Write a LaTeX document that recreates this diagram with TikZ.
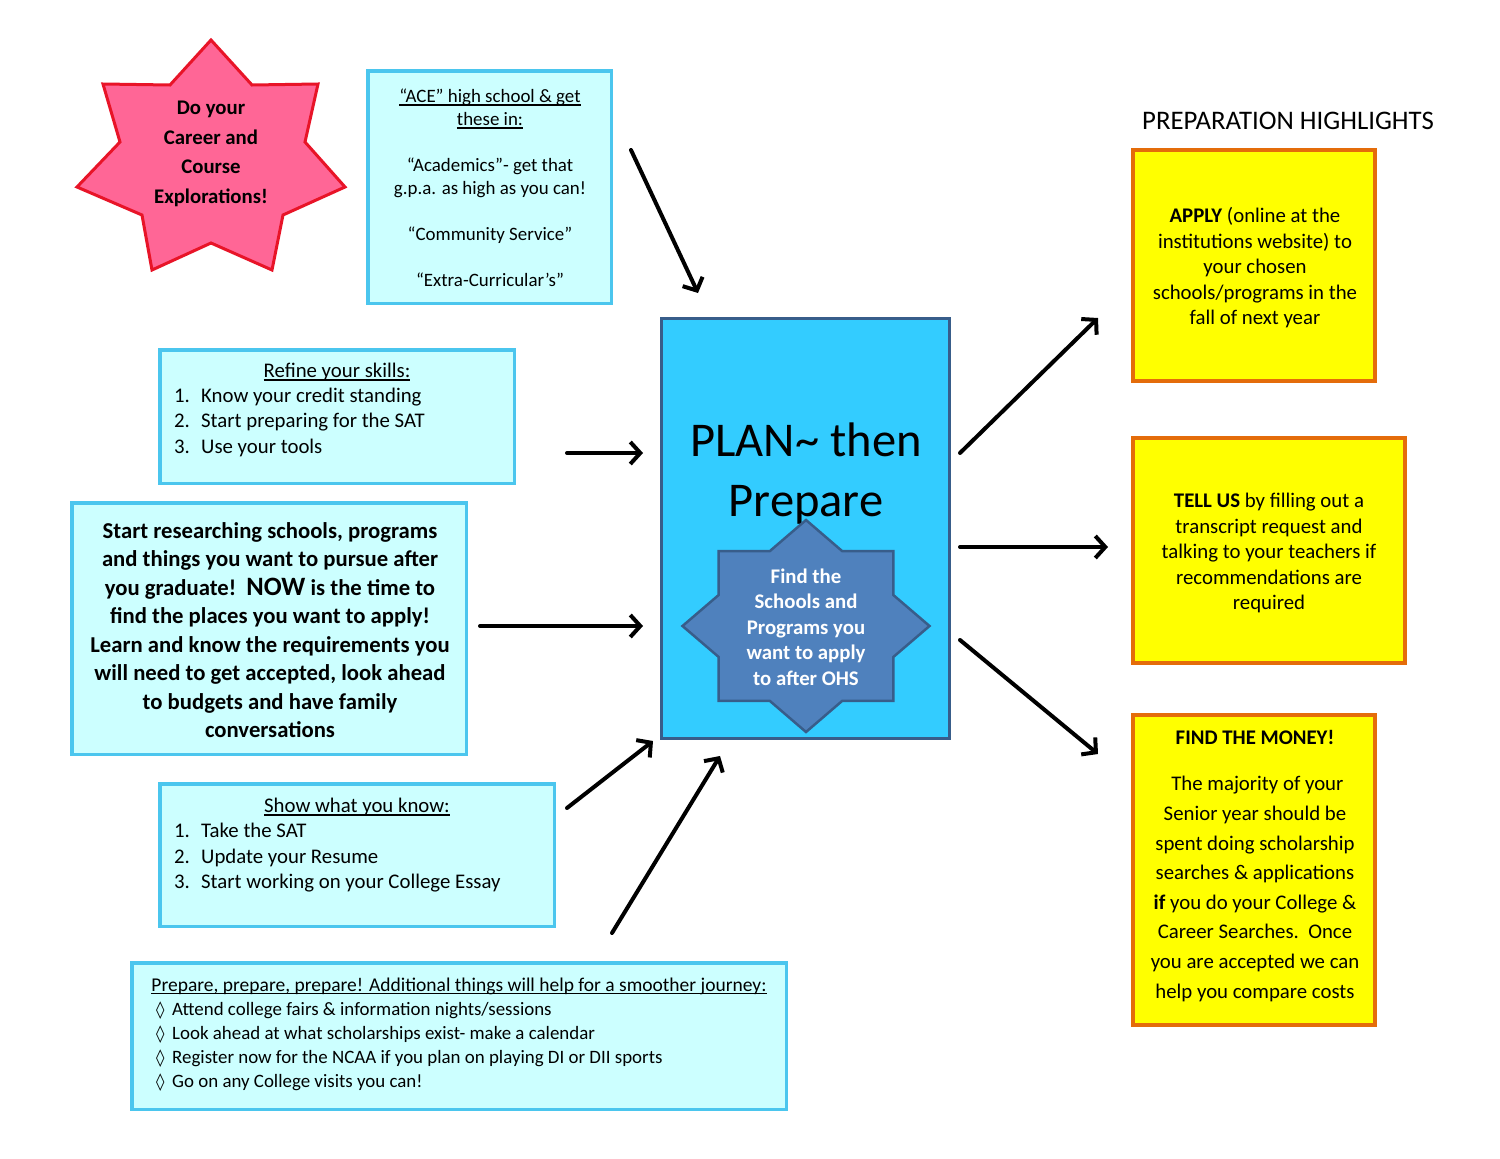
\documentclass[tikz,border=0pt]{standalone}
\usepackage{fontspec}
\setmainfont{Carlito}
\newfontfamily\symf{DejaVu Sans}
\newsavebox\ulbox
\newcommand\myul[1]{\sbox\ulbox{#1}\rlap{\usebox\ulbox}\rule[-3.2pt]{\wd\ulbox}{1.6pt}}
\usetikzlibrary{arrows.meta}
\definecolor{lcyan}{RGB}{204,255,255}
\definecolor{cyanline}{RGB}{75,198,238}
\definecolor{centerfill}{RGB}{51,204,255}
\definecolor{darkline}{RGB}{56,93,138}
\definecolor{starfill}{RGB}{79,129,189}
\definecolor{pinkfill}{RGB}{255,102,150}
\definecolor{pinkline}{RGB}{232,20,40}
\definecolor{yfill}{RGB}{255,255,0}
\definecolor{oline}{RGB}{228,108,10}
\newcommand\fElev{\fontsize{20.8}{25.5}\selectfont}
\newcommand\fElevB{\fontsize{20.8}{29.5}\selectfont\bfseries}
\newcommand\fTen{\fontsize{18.9}{23}\selectfont}
\newcommand\fTenP{\fontsize{18.9}{24}\selectfont}
\newcommand\lozsym{\makebox[16pt][l]{\symf\fontsize{17}{17}\selectfont ◊}}
\tikzset{
  cbox/.style={draw=cyanline, fill=lcyan, line width=3.5pt, inner sep=0pt},
  yellowbox/.style={draw=oline, fill=yfill, line width=4pt, inner sep=0pt},
  txt/.style={inner sep=0pt, align=center},
  arr/.style={line width=4pt, line cap=round, -{Straight Barb[length=10pt,width=22pt]}}
}
\begin{document}
\begin{tikzpicture}[x=1pt,y=-1pt]
\useasboundingbox (0,0) rectangle (1500,1159);
\fill[white] (0,0) rectangle (1500,1159);

% pink 7-point star
\filldraw[fill=pinkfill, draw=pinkline, line width=3pt, line join=miter]
  (211,40) -- (252,85) -- (318,84) -- (305,142) -- (345,187) -- (283,215)
  -- (272,270) -- (211,243) -- (152,270) -- (142,215) -- (77,187)
  -- (120,142) -- (103,84) -- (170,85) -- cycle;
\node[txt, font=\fElevB] (explore) at (211,154) {Do your\\Career and\\Course\\Explorations!};

% ACE box
\node[cbox, minimum width=243.5pt, minimum height=232.5pt] (ace) at (489.5,187) {};
\node[txt, font=\fTen] (acetxt) at (490,188)
  {\myul{“ACE” high school \& get}\\ \myul{these in:}\\[23pt]
   “Academics”- get that\\ g.p.a. as high as you can!\\[23pt]
   “Community Service”\\[23pt] “Extra-Curricular’s”};

% Refine box
\node[cbox, minimum width=354.5pt, minimum height=133.5pt] (refine) at (337,416.5) {};
\node[txt, font=\fElev] (refinetitle) at (337,372) {\myul{Refine your skills:}};
\node[txt, font=\fElev, align=left, anchor=west] (refinelist) at (174,422)
  {\makebox[27pt][l]{1.}Know your credit standing\\
   \makebox[27pt][l]{2.}Start preparing for the SAT\\
   \makebox[27pt][l]{3.}Use your tools};

% Research box
\node[cbox, minimum width=394.5pt, minimum height=251.5pt] (research) at (269,628.5) {};
\node[txt, font=\fontsize{22.7}{28.5}\selectfont\bfseries] (researchtxt) at (270,630)
  {Start researching schools, programs\\
   and things you want to pursue after\\
   you graduate!\ \ {\fontsize{26.5}{28.5}\selectfont NOW} is the time to\\
   find the places you want to apply!\\
   Learn and know the requirements you\\
   will need to get accepted, look ahead\\
   to budgets and have family\\
   conversations};

% Show box
\node[cbox, minimum width=394.5pt, minimum height=142.5pt] (show) at (357,855) {};
\node[txt, font=\fElev] (showtitle) at (357,807) {\myul{Show what you know:}};
\node[txt, font=\fElev, align=left, anchor=west] (showlist) at (174,858)
  {\makebox[27pt][l]{1.}Take the SAT\\
   \makebox[27pt][l]{2.}Update your Resume\\
   \makebox[27pt][l]{3.}Start working on your College Essay};

% Prepare box
\node[cbox, minimum width=654.5pt, minimum height=146.5pt] (prep) at (459,1036) {};
\node[txt, font=\fontsize{19.5}{24}\selectfont] (preptitle) at (459,986)
  {\myul{Prepare, prepare, prepare! Additional things will help for a smoother journey:}};
\node[txt, font=\fTenP, align=left, anchor=west] (preplist) at (156,1047)
  {\lozsym Attend college fairs \& information nights/sessions\\
   \lozsym Look ahead at what scholarships exist- make a calendar\\
   \lozsym Register now for the NCAA if you plan on playing DI or DII sports\\
   \lozsym Go on any College visits you can!};

% Central box
\node[draw=darkline, fill=centerfill, line width=3pt, inner sep=0pt,
      minimum width=288pt, minimum height=420pt] (plan) at (805.5,528.5) {};
\node[txt, font=\fontsize{48.5}{60}\selectfont] (plantxt) at (806,474)
  {PLAN\textasciitilde{} then\\Prepare};

% blue 8-point star
\begin{scope}[shift={(806,626)}, xscale=123.5, yscale=106]
\filldraw[fill=starfill, draw=darkline, line width=2.5pt, line join=miter]
  (0:1) -- (22.5:0.765) -- (45:1) -- (67.5:0.765) -- (90:1) -- (112.5:0.765)
  -- (135:1) -- (157.5:0.765) -- (180:1) -- (202.5:0.765) -- (225:1)
  -- (247.5:0.765) -- (270:1) -- (292.5:0.765) -- (315:1) -- (337.5:0.765) -- cycle;
\end{scope}
\node[txt, font=\fElev\bfseries, text=white] (findtxt) at (806,627)
  {Find the\\Schools and\\Programs you\\want to apply\\to after OHS};

% right side
\node[txt, font=\fontsize{26.8}{30}\selectfont] (highlights) at (1288,121) {PREPARATION HIGHLIGHTS};
\node[yellowbox, minimum width=242pt, minimum height=231pt] (apply) at (1254,265.5) {};
\node[txt, font=\fElev] (applytxt) at (1255,268)
  {\textbf{APPLY} (online at the\\institutions website) to\\your chosen\\schools/programs in the\\fall of next year};
\node[yellowbox, minimum width=272pt, minimum height=225pt] (tell) at (1269,550.5) {};
\node[txt, font=\fElev] (telltxt) at (1269,553)
  {\textbf{TELL US} by filling out a\\transcript request and\\talking to your teachers if\\recommendations are\\required};
\node[yellowbox, minimum width=242pt, minimum height=310pt] (money) at (1254,870) {};
\node[txt, font=\fElev\bfseries] (moneytitle) at (1255,737) {FIND THE MONEY!};
\node[txt, font=\fontsize{20.8}{29.6}\selectfont] (moneytxt) at (1255,889)
  {\ The majority of your\\Senior year should be\\spent doing scholarship\\searches \& applications\\
   \textbf{if} you do your College \&\\Career Searches.\ \ Once\\you are accepted we can\\help you compare costs};

% arrows
\coordinate (a1s) at (631,150); \coordinate (a1e) at (698,293);
\coordinate (a2s) at (567,453); \coordinate (a2e) at (643,453);
\coordinate (a3s) at (480,626); \coordinate (a3e) at (643,626);
\coordinate (a4s) at (567,808); \coordinate (a4e) at (653,741);
\coordinate (a5s) at (612,933); \coordinate (a5e) at (720,756);
\coordinate (a6s) at (960,453); \coordinate (a6e) at (1098,318);
\coordinate (a7s) at (960,547); \coordinate (a7e) at (1108,547);
\coordinate (a8s) at (960,640); \coordinate (a8e) at (1098,754);
\draw[arr] (a1s) -- (a1e);
\draw[arr] (a2s) -- (a2e);
\draw[arr] (a3s) -- (a3e);
\draw[arr] (a4s) -- (a4e);
\draw[arr] (a5s) -- (a5e);
\draw[arr] (a6s) -- (a6e);
\draw[arr] (a7s) -- (a7e);
\draw[arr] (a8s) -- (a8e);
\end{tikzpicture}
\end{document}
